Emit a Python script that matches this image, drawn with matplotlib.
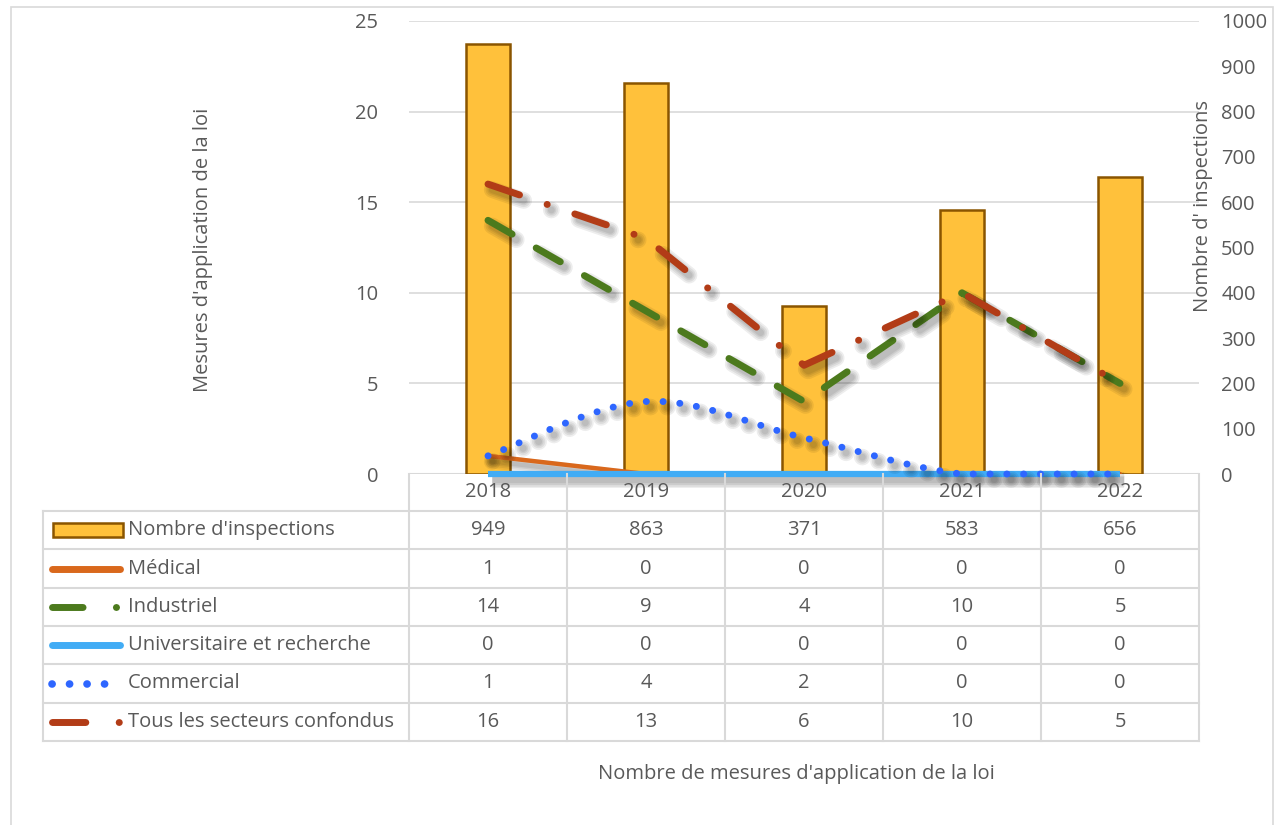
import matplotlib
matplotlib.use("Agg")
import matplotlib.pyplot as plt
import matplotlib.patheffects as pe
from matplotlib.lines import Line2D
from matplotlib.patches import Rectangle
import numpy as np

plt.rcParams['font.family'] = ['Open Sans', 'DejaVu Sans']
plt.rcParams['lines.scale_dashes'] = False

years = ['2018', '2019', '2020', '2021', '2022']
inspections = [949, 863, 371, 583, 656]
medical = [1, 0, 0, 0, 0]
industriel = [14, 9, 4, 10, 5]
universitaire = [0, 0, 0, 0, 0]
commercial = [1, 4, 2, 0, 0]
tous = [16, 13, 6, 10, 5]

row_names = ["Nombre d'inspections", "Médical", "Industriel",
             "Universitaire et recherche", "Commercial", "Tous les secteurs confondus"]
row_values = [inspections, medical, industriel, universitaire, commercial, tous]

TXT = '#595959'
GRID = '#D9D9D9'
FS = 14.5
c_bar, c_bar_edge = '#FFC13B', '#8A5500'
c_med, c_ind, c_uni, c_com, c_tous = '#D9681C', '#4C7A1D', '#41ACF5', '#2E66FF', '#B23C17'


def smooth(y, n=40):
    # Excel-like smoothed line (cubic bezier through the points)
    y = np.asarray(y, float)
    x = np.arange(len(y), dtype=float)
    xs, ys = [], []
    for i in range(len(y) - 1):
        p0x, p0y = x[max(i - 1, 0)], y[max(i - 1, 0)]
        p3x, p3y = x[min(i + 2, len(y) - 1)], y[min(i + 2, len(y) - 1)]
        c1x = x[i] + (x[i + 1] - p0x) / 6
        c1y = y[i] + (y[i + 1] - p0y) / 6
        c2x = x[i + 1] - (p3x - x[i]) / 6
        c2y = y[i + 1] - (p3y - y[i]) / 6
        t = np.linspace(0, 1, n, endpoint=(i == len(y) - 2))
        b = [(1 - t) ** 3, 3 * (1 - t) ** 2 * t, 3 * (1 - t) * t ** 2, t ** 3]
        xs.append(b[0] * x[i] + b[1] * c1x + b[2] * c2x + b[3] * x[i + 1])
        ys.append(b[0] * y[i] + b[1] * c1y + b[2] * c2y + b[3] * y[i + 1])
    return np.concatenate(xs), np.concatenate(ys)


def soft_shadow(lw):
    # fake blurred drop shadow: a few wide, faint passes
    fx_ = [pe.SimpleLineShadow(offset=(3, -4), shadow_color='k', alpha=0.07,
                               linewidth=lw + w) for w in (7, 4.5, 2, 0)]
    return fx_ + [pe.Normal()]


W, H = 1278, 825
fig = plt.figure(figsize=(W / 100, H / 100), dpi=100)

def fx(px):
    return px / W

def fy(py):
    return 1 - py / H

# outer chart border
fig.patches.append(Rectangle((fx(11), fy(830)), fx(1273 - 11), fy(7) - fy(830),
                             transform=fig.transFigure, fill=False,
                             edgecolor=GRID, lw=1.2))

L, R, T, B = 409, 1199, 21, 474
ax_bar = fig.add_axes([fx(L), fy(B), fx(R - L), fy(T) - fy(B)])
ax = ax_bar.twinx()

x = np.arange(len(years))
ax_bar.bar(x, inspections, width=0.28, color=c_bar, edgecolor=c_bar_edge, lw=1.8, zorder=2)
ax_bar.set_ylim(0, 1000)
ax_bar.set_xlim(-0.5, len(years) - 0.5)
ax_bar.yaxis.tick_right()
ax_bar.set_yticks(np.arange(0, 1001, 100))
for v in range(5, 26, 5):
    ax_bar.axhline(v * 40, color=GRID, lw=1.2, zorder=0)
ax_bar.axhline(0, color=GRID, lw=1.5, zorder=1)

ax.plot(x, medical, color=c_med, lw=3.2, solid_capstyle='round',
        path_effects=soft_shadow(3.2), zorder=3)
ax.plot(x, universitaire, color=c_uni, lw=4.5, solid_capstyle='butt',
        path_effects=soft_shadow(4.5), zorder=4, clip_on=False)
ax.plot(x, industriel, color=c_ind, lw=5, dashes=(20, 20), dash_capstyle='round',
        path_effects=soft_shadow(5), zorder=5)
ax.plot(x, tous, color=c_tous, lw=5, dashes=(24, 21, 0.1, 21), dash_capstyle='round',
        path_effects=soft_shadow(5), zorder=6)
sx, sy = smooth(commercial)
ax.plot(sx, np.clip(sy, 0, None), color=c_com, lw=5, dashes=(0.1, 12), dash_capstyle='round',
        path_effects=soft_shadow(5), zorder=7, clip_on=False)

ax.set_ylim(0, 25)
ax.set_yticks(range(0, 26, 5))
ax.yaxis.tick_left()
ax.set_xlim(-0.5, len(years) - 0.5)

for a in (ax, ax_bar):
    for s in a.spines.values():
        s.set_visible(False)
    a.tick_params(axis='y', length=0, labelsize=FS, labelcolor=TXT)
    a.tick_params(axis='x', bottom=False, labelbottom=False)
ax.tick_params(axis='y', pad=22)
ax_bar.tick_params(axis='y', pad=16)

fig.text(fx(203), fy(250), "Mesures d'application de la loi", rotation=90,
         ha='center', va='center', fontsize=FS, color=TXT)
fig.text(fx(1203), fy(206), "Nombre d' inspections", rotation=90,
         ha='center', va='center', fontsize=FS, color=TXT)
fig.text(fx(796), fy(774), "Nombre de mesures d'application de la loi",
         ha='center', va='center', fontsize=FS, color=TXT)

# data table under the plot
col_edges = np.linspace(L, R, len(years) + 1)
row_edges = [511, 549, 588, 626, 664, 703, 741]
tk = dict(transform=fig.transFigure, color=GRID, lw=1.5)
for px in col_edges:
    fig.add_artist(Line2D([fx(px)] * 2, [fy(B), fy(row_edges[-1])], **tk))
fig.add_artist(Line2D([fx(43)] * 2, [fy(row_edges[0]), fy(row_edges[-1])], **tk))
for py in row_edges:
    fig.add_artist(Line2D([fx(43), fx(R)], [fy(py)] * 2, **tk))

cx = (col_edges[:-1] + col_edges[1:]) / 2
for c, yr in zip(cx, years):
    fig.text(fx(c), fy(492), yr, ha='center', va='center', fontsize=FS, color=TXT)
for r, (name, vals) in enumerate(zip(row_names, row_values)):
    yc = (row_edges[r] + row_edges[r + 1]) / 2
    for c, v in zip(cx, vals):
        fig.text(fx(c), fy(yc), str(v), ha='center', va='center', fontsize=FS, color=TXT)
    fig.text(fx(128), fy(yc), name, ha='left', va='center', fontsize=FS, color=TXT)

# legend keys in the table
def key_line(r, **kw):
    yc = fy((row_edges[r] + row_edges[r + 1]) / 2)
    fig.add_artist(Line2D([fx(52), fx(120)], [yc, yc], transform=fig.transFigure, **kw))

yk = fy((row_edges[0] + row_edges[1]) / 2)
fig.patches.append(Rectangle((fx(53), yk - 7 / H), fx(70), 14 / H, transform=fig.transFigure,
                             facecolor=c_bar, edgecolor=c_bar_edge, lw=1.8))
key_line(1, color=c_med, lw=5, solid_capstyle='round')
key_line(2, color=c_ind, lw=5, dashes=(22, 24, 0.1, 20), dash_capstyle='round')
key_line(3, color=c_uni, lw=5, solid_capstyle='round')
key_line(4, color=c_com, lw=5.5, dashes=(0.1, 12.5), dash_capstyle='round')
key_line(5, color=c_tous, lw=5, dashes=(24, 24, 0.1, 20), dash_capstyle='round')

fig.savefig('out.png', dpi=100)
